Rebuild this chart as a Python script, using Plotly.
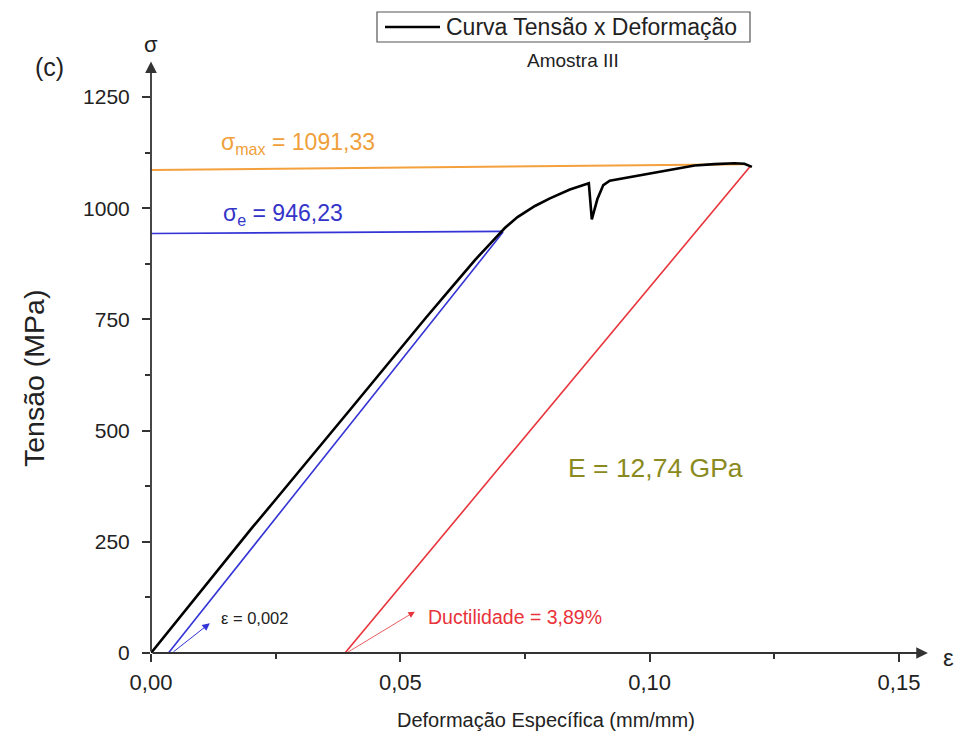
import plotly.graph_objects as go

# ---------------- data ----------------
curve_strain = [0, 0.005, 0.010, 0.015, 0.020, 0.025, 0.030, 0.035, 0.040, 0.045, 0.050,
                0.055, 0.060, 0.065, 0.0685, 0.0710, 0.0735, 0.077, 0.080, 0.084, 0.0878,
                0.0884, 0.0895, 0.0907, 0.092, 0.096, 0.100, 0.105, 0.109, 0.113, 0.117,
                0.119, 0.1205]
curve_stress = [0, 70, 140, 210, 278, 345, 412, 480, 548, 616, 685,
                752, 818, 884, 926, 956, 980, 1005, 1022, 1042, 1056,
                975, 1020, 1052, 1062, 1070, 1078, 1088, 1096, 1099, 1101,
                1100, 1093]

offset_strain = [0.0035, 0.0706]      # 0,2 % offset line
offset_stress = [0, 946.23]
yield_strain = [0, 0.0706]            # sigma_e horizontal
yield_stress = [943, 948]
max_strain = [0, 0.119]               # sigma_max horizontal
max_stress = [1086, 1099]
duct_strain = [0.0389, 0.1201]        # elastic unloading line
duct_stress = [0, 1093]

x_tickvals = [0, 0.05, 0.10, 0.15]
x_ticktext = ["0,00", "0,05", "0,10", "0,15"]
x_minor = [0.025, 0.075, 0.125]
y_tickvals = [0, 250, 500, 750, 1000, 1250]
y_minor = [125, 375, 625, 875, 1125]

legend_label = "Curva Tensão x Deformação"

# ---------------- layout geometry ----------------
L, R, T, B = 151, 21, 53, 90
W, H = 960 - L - R, 743 - T - B
XPPU = (899 - 151) / 0.15
YPPU = (653 - 97) / 1250
x_range = [0, W / XPPU]
y_range = [0, H / YPPU]


def px(x):
    return (x - L) / W


def py(y):
    return 1 - (y - T) / H


FONT = "Liberation Sans, Arial, sans-serif"
AX = "#333333"

fig = go.Figure()
fig.add_trace(go.Scatter(x=max_strain, y=max_stress, mode="lines",
                         line=dict(color="#f4a03c", width=2), showlegend=False, hoverinfo="skip"))
fig.add_trace(go.Scatter(x=yield_strain, y=yield_stress, mode="lines",
                         line=dict(color="#3333d6", width=1.6), showlegend=False, hoverinfo="skip"))
fig.add_trace(go.Scatter(x=offset_strain, y=offset_stress, mode="lines",
                         line=dict(color="#3333d6", width=1.6), showlegend=False, hoverinfo="skip"))
fig.add_trace(go.Scatter(x=duct_strain, y=duct_stress, mode="lines",
                         line=dict(color="#e8333a", width=1.6), showlegend=False, hoverinfo="skip"))
fig.add_trace(go.Scatter(x=curve_strain, y=curve_stress, mode="lines",
                         name=legend_label, showlegend=False,
                         line=dict(color="black", width=2.6)))

ann = []
# axis arrows
ann.append(dict(x=0.1558, y=0, ax=0, ay=0, xref="x", yref="y", axref="x", ayref="y",
                text="", showarrow=True, arrowhead=2, arrowsize=1.3, arrowwidth=1.8,
                arrowcolor=AX, standoff=0))
ann.append(dict(x=0, y=1330, ax=0, ay=0, xref="x", yref="y", axref="x", ayref="y",
                text="", showarrow=True, arrowhead=2, arrowsize=1.3, arrowwidth=1.8,
                arrowcolor=AX, standoff=0))
# small pointer arrows
ann.append(dict(x=0.0118, y=67, ax=0.0042, ay=0, xref="x", yref="y", axref="x", ayref="y",
                text="", showarrow=True, arrowhead=2, arrowsize=1.5, arrowwidth=1,
                arrowcolor="#3333d6", standoff=0))
ann.append(dict(x=0.0529, y=93, ax=0.0392, ay=0, xref="x", yref="y", axref="x", ayref="y",
                text="", showarrow=True, arrowhead=2, arrowsize=1.6, arrowwidth=0.8,
                arrowcolor="#e8333a", standoff=0))


def text(t, x, y, size, color="#222", xanchor="left", yanchor="middle", angle=0):
    ann.append(dict(text=t, x=px(x), y=py(y), xref="paper", yref="paper",
                    xanchor=xanchor, yanchor=yanchor, showarrow=False, textangle=angle,
                    font=dict(family=FONT, size=size, color=color)))


text("(c)", 49, 67, 25, xanchor="center")
text("σ", 151, 45, 22, xanchor="center")
text("ε", 948, 657, 24, xanchor="center")
text("Amostra III", 573, 61, 19, xanchor="center")
text("σ<sub>max</sub> = 1091,33", 219, 144, 23, color="#f0a03a")
text("σ<sub>e</sub> = 946,23", 221, 214, 23, color="#3434c8")
text("E = 12,74 GPa", 566, 468, 26.5, color="#8a8a20")
text("ε = 0,002", 219, 618, 16.5, color="#222")
text("Ductilidade = 3,89%", 426, 617, 19.5, color="#e8333a")
text("Deformação Específica (mm/mm)", 546, 720, 20, xanchor="center")
text("Tensão (MPa)", 34, 379, 28.5, xanchor="center", angle=-90)
# legend (box + sample line + label)
text(legend_label, 444, 27, 23)

shapes = [
    dict(type="rect", xref="paper", yref="paper", x0=px(377), x1=px(750), y0=py(12), y1=py(42),
         line=dict(color="#555", width=1.2), fillcolor="white", layer="below"),
    dict(type="line", xref="paper", yref="paper", x0=px(385), x1=px(440), y0=py(27), y1=py(27),
         line=dict(color="black", width=2.6)),
]

fig.update_layout(
    width=960, height=743,
    margin=dict(l=L, r=R, t=T, b=B),
    paper_bgcolor="white", plot_bgcolor="white",
    font=dict(family=FONT, color=AX),
    annotations=ann,
    shapes=shapes,
    showlegend=False,
    xaxis=dict(range=x_range, showgrid=False, zeroline=False, showline=False,
               tickvals=x_tickvals, ticktext=x_ticktext, ticks="outside",
               ticklen=8, tickwidth=1.8, tickcolor=AX,
               tickfont=dict(family=FONT, size=22, color="#222"),
               ticklabelstandoff=2,
               minor=dict(tickvals=x_minor, ticks="outside", ticklen=5, tickwidth=1.5,
                          tickcolor=AX, showgrid=False)),
    yaxis=dict(range=y_range, showgrid=False, zeroline=False, showline=False,
               tickvals=y_tickvals, ticks="outside",
               ticklen=8, tickwidth=1.8, tickcolor=AX,
               tickfont=dict(family=FONT, size=21, color="#222"),
               ticklabelstandoff=8,
               minor=dict(tickvals=y_minor, ticks="outside", ticklen=5, tickwidth=1.5,
                          tickcolor=AX, showgrid=False)),
)

fig.write_html("out.html")
